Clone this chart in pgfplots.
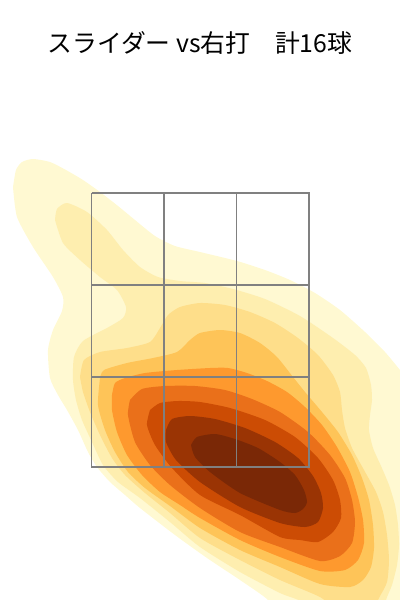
\documentclass[border=0pt]{standalone}
\usepackage{pgfplots}
\pgfplotsset{compat=1.18}
\usepackage{fontspec}
\newfontfamily\cjk{Noto Sans CJK JP}

\definecolor{lvA}{RGB}{255,249,210}
\definecolor{lvB}{RGB}{254,238,175}
\definecolor{lvC}{RGB}{254,222,138}
\definecolor{lvD}{RGB}{254,196,88}
\definecolor{lvE}{RGB}{254,153,46}
\definecolor{lvF}{RGB}{234,112,26}
\definecolor{lvG}{RGB}{204,76,4}
\definecolor{lvH}{RGB}{154,52,4}
\definecolor{lvI}{RGB}{122,40,6}
\definecolor{zone}{RGB}{128,128,128}

\begin{document}
\begin{tikzpicture}
\begin{axis}[
  width=300pt, height=450pt, scale only axis,
  xmin=0, xmax=400, ymin=0, ymax=600,
  y dir=reverse,
  hide axis,
  every axis plot/.append style={smooth, tension=0.4},
]
% density levels, outermost first (pixel-like coordinates, y down)
\addplot[fill=lvA, draw=none] coordinates {
 (13,187) (16,170) (22,162) (33,159) (50,162) (66,170) (83,180) (100,192)
 (118,206) (135,220) (155,236) (175,246) (200,252) (237,261) (265,270)
 (290,280) (315,293) (340,310) (365,332) (385,352) (400,370) (412,385)
 (412,612) (268,612) (268,600) (240,580) (207,558) (175,535) (140,508)
 (125,495) (110,482) (97,467) (88,452) (78,430) (67,410) (58,395) (50,378)
 (48,350) (53,330) (62,311) (63,297) (53,277) (33,247) (17,217) (13,187)};
\addplot[fill=lvB, draw=none] coordinates {
 (55,220) (57,209) (67,203) (87,212) (107,230) (123,250) (140,267) (158,277)
 (180,281) (205,283) (233,289) (265,299) (300,316) (333,338) (355,355)
 (366,368) (371,385) (372,400) (370,415) (369,430) (373,448) (381,466)
 (389,485) (395,505) (398,525) (399,545) (397,565) (392,585) (386,600)
 (386,612) (300,612) (300,601) (280,593) (240,572) (200,547) (170,522)
 (140,498) (118,482) (103,465) (92,442) (82,420) (76,400) (73,380) (74,357)
 (83,341) (107,328) (123,318) (126,307) (117,290) (100,277) (80,260)
 (63,243) (55,220)};
\addplot[fill=lvC, draw=none] coordinates {
 (80,377) (84,360) (100,352) (127,348) (150,342) (160,328) (168,315)
 (180,307) (200,303) (225,305) (250,312) (275,323) (298,338) (318,355)
 (333,375) (340,392) (342,410) (345,428) (352,448) (364,470) (376,492)
 (383,512) (387,535) (389,560) (387,582) (380,596) (370,612) (340,612)
 (320,597) (280,580) (240,560) (200,538) (170,513) (145,493) (125,475)
 (112,458) (100,435) (90,412) (83,392) (80,377)};
\addplot[fill=lvD, draw=none] coordinates {
 (100,378) (104,370) (127,363) (153,358) (177,352) (190,340) (200,333)
 (220,330) (240,333) (260,343) (277,357) (293,377) (305,392) (322,412)
 (338,432) (352,455) (362,478) (369,500) (373,525) (374,548) (371,567)
 (363,580) (350,587) (320,584) (280,567) (240,550) (200,528) (170,506)
 (145,488) (128,472) (115,452) (105,430) (98,405) (100,378)};
\addplot[fill=lvE, draw=none] coordinates {
 (112,395) (115,383) (125,378) (145,373) (177,370) (210,368) (228,368)
 (247,373) (267,381) (287,392) (305,407) (322,425) (337,447) (350,472)
 (358,497) (363,520) (364,543) (358,560) (345,570) (320,571) (280,557)
 (240,540) (200,518) (180,505) (160,492) (142,475) (127,455) (117,432)
 (112,410) (112,395)};
\addplot[fill=lvF, draw=none] coordinates {
 (130,400) (142,389) (165,386) (195,386) (225,390) (252,399) (280,412)
 (308,432) (330,455) (345,478) (352,500) (355,522) (352,543) (340,556)
 (320,561) (280,547) (240,532) (200,508) (170,485) (150,465) (135,442)
 (128,415) (130,400)};
\addplot[fill=lvG, draw=none] coordinates {
 (150,410) (160,403) (178,401) (200,402) (230,408) (265,420) (295,437)
 (318,458) (333,480) (340,500) (341,518) (333,532) (318,542) (300,540)
 (280,537) (240,515) (200,495) (172,468) (155,445) (147,425) (150,410)};
\addplot[fill=lvH, draw=none] coordinates {
 (166,430) (172,419) (190,416) (215,419) (245,428) (275,442) (298,458)
 (313,476) (321,493) (323,508) (318,522) (305,527) (280,523) (240,507)
 (200,482) (176,460) (166,442) (166,430)};
\addplot[fill=lvI, draw=none] coordinates {
 (191,445) (197,437) (215,434) (235,439) (258,448) (280,462) (295,475)
 (304,490) (307,502) (303,509) (295,513) (280,510) (240,493) (210,472)
 (195,457) (191,445)};

% strike zone 3x3
\addplot[sharp plot, zone, line width=1.1pt] coordinates {
 (91.5,193) (309,193) (309,467) (91.5,467) (91.5,193)};
\addplot[sharp plot, zone, line width=1.1pt] coordinates {(164,193) (164,467)};
\addplot[sharp plot, zone, line width=1.1pt] coordinates {(236.5,193) (236.5,467)};
\addplot[sharp plot, zone, line width=1.1pt] coordinates {(91.5,285) (309,285)};
\addplot[sharp plot, zone, line width=1.1pt] coordinates {(91.5,377) (309,377)};

\node[font=\cjk\fontsize{18.6}{22}\selectfont] at (axis cs:200,43) {スライダー vs右打　計16球};
\end{axis}
\path (current axis.south west) rectangle (current axis.north east);
\end{tikzpicture}
\end{document}
